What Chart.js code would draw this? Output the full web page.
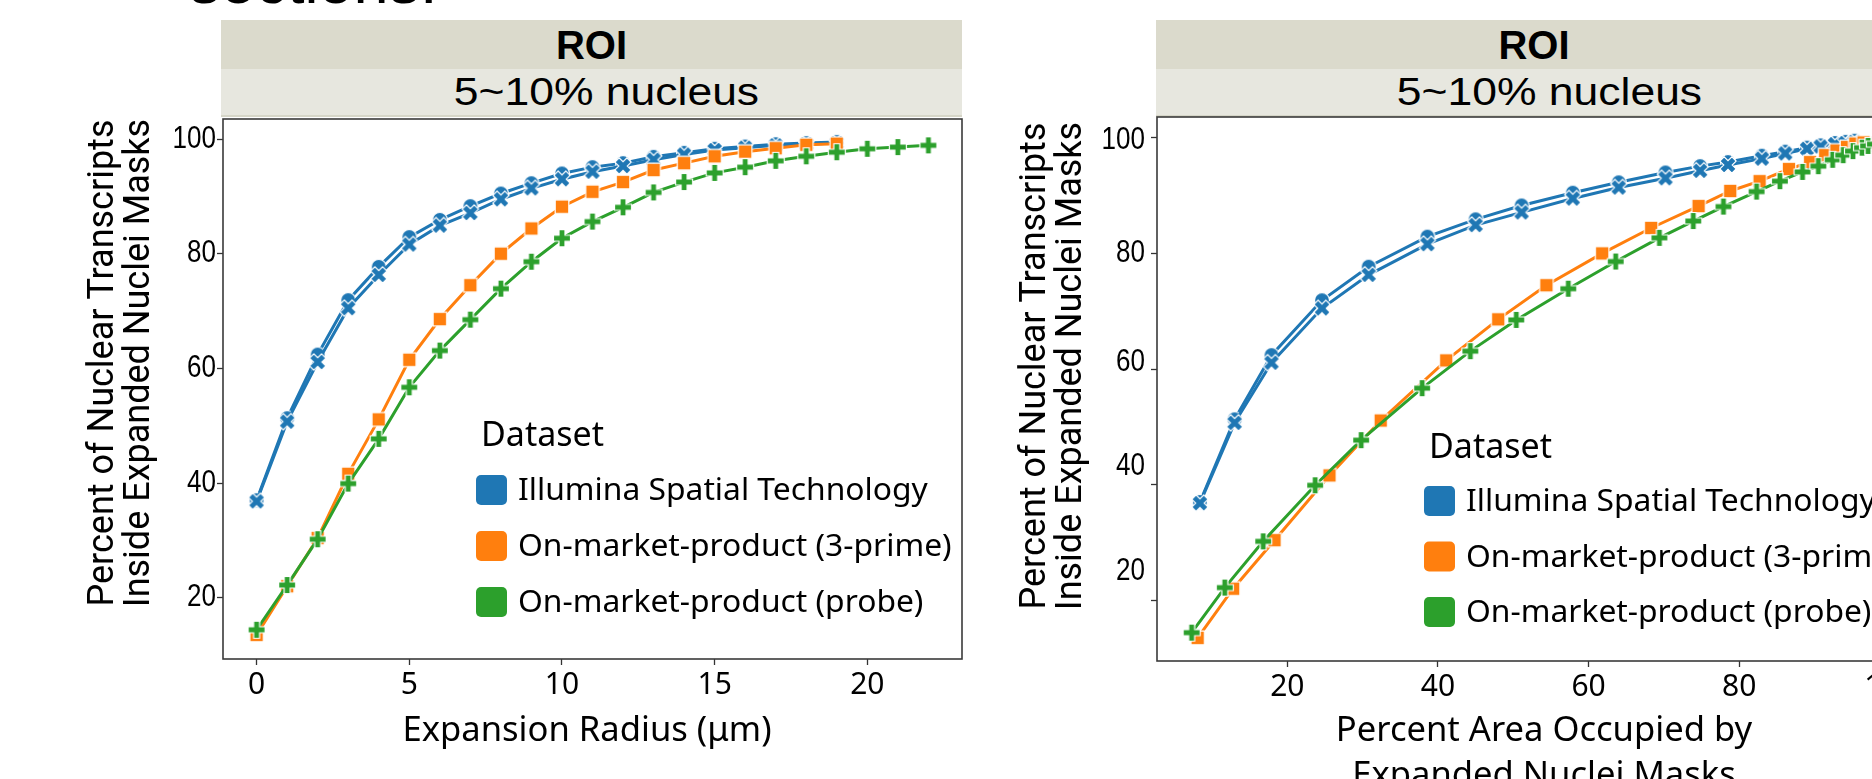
<!DOCTYPE html>
<html>
<head>
<meta charset="utf-8">
<script src="https://cdn.jsdelivr.net/npm/chart.js@4.4.0/dist/chart.umd.min.js"></script>
<style>
  html, body { margin: 0; padding: 0; background: #fff; }
  body { width: 1872px; height: 779px; overflow: hidden; position: relative;
         font-family: "Liberation Sans", Arial, sans-serif; }
  .strip { position: absolute; box-sizing: border-box; text-align: center; color: #000; white-space: nowrap; overflow: hidden; }
  .strip.top { background: #dbdacc; font-weight: bold; font-size: 40px; }
  .strip.sub { background: #e7e7df; font-size: 38px; border-bottom: 2px solid #d6d6c8; padding-left: 30px; }
  .strip.sub span { display: inline-block; transform: scaleX(1.17); }
  #caption { position: absolute; left: 189px; top: -50px; font-size: 63px; line-height: 63px; color: #000; }
  canvas { position: absolute; }
</style>
</head>
<body>
<div id="caption">sections.</div>

<div class="strip top" style="left:221px;top:20px;width:741px;height:49px;line-height:50px">ROI</div>
<div class="strip sub" style="left:221px;top:69px;width:741px;height:48px;line-height:46px"><span>5~10% nucleus</span></div>

<div class="strip top" style="left:1156px;top:20px;width:756px;height:49px;line-height:50px">ROI</div>
<div class="strip sub" style="left:1156px;top:69px;width:756px;height:48px;line-height:46px"><span>5~10% nucleus</span></div>

<canvas id="radiusChart" width="980" height="662" style="left:0;top:117px"></canvas>
<canvas id="areaChart" width="945" height="664" style="left:985px;top:115px"></canvas>

<script>
// ---- data -------------------------------------------------------------
const seriesNames = [
  'Illumina Spatial Technology',
  'On-market-product (3-prime)',
  'On-market-product (probe)'
];
const seriesColors = ['#1f77b4', '#ff7f0e', '#2ca02c'];

// expansion radius (µm) for each step
const radiusIllumina = [0,1,2,3,4,5,6,7,8,9,10,11,12,13,14,15,16,17,18,19];
const radiusThreePrime = [0,1,2,3,4,5,6,7,8,9,10,11,12,13,14,15,16,17,18,19];
const radiusProbe = [0,1,2,3,4,5,6,7,8,9,10,11,12,13,14,15,16,17,18,19,20,21,22];

// percent of nuclear transcripts inside the expanded masks
const illuminaRunA = [37.0,51.3,62.4,71.9,77.7,82.9,85.9,88.3,90.5,92.3,94.0,95.1,95.8,96.9,97.6,98.3,98.7,99.1,99.3,99.5];
const illuminaRunB = [36.8,50.7,61.1,70.5,76.3,81.6,84.9,87.1,89.5,91.4,93.0,94.3,95.3,96.4,97.3,98.1,98.5,98.9,99.1,99.3];
const threePrime   = [13.5,22.0,30.4,41.6,51.1,61.5,68.6,74.5,80.0,84.4,88.2,90.8,92.5,94.6,95.8,97.0,97.8,98.4,99.0,99.2];
const probe        = [14.4,22.2,30.2,39.9,47.7,56.7,63.1,68.5,73.9,78.6,82.7,85.6,88.1,90.7,92.5,94.1,95.1,96.2,97.0,97.7,98.3,98.6,98.9];

// percent area occupied by the expanded masks at each step
const areaIllumina   = [8.4,13.0,17.9,24.6,30.8,38.6,45.0,51.1,57.9,64.0,70.2,74.8,78.5,83.0,86.1,89.0,90.8,92.7,94.1,95.3];
const areaThreePrime = [8.1,12.8,18.3,25.6,32.4,41.1,48.0,54.4,61.8,68.3,74.6,78.8,82.7,86.6,89.4,91.4,92.9,94.3,95.4,96.5];
const areaProbe      = [7.3,11.7,16.8,23.7,29.8,37.9,44.3,50.4,57.3,63.6,69.4,73.9,77.9,82.3,85.4,88.4,90.5,92.4,93.8,95.1,96.3,97.1,98.0];

const yTicks = [20, 40, 60, 80, 100];
const radiusTicks = [0, 5, 10, 15, 20];
const areaTicks = [20, 40, 60, 80, 100];

// ---- marker glyphs ----------------------------------------------------
function markerCanvas(kind, color) {
  const size = 22;
  const c = document.createElement('canvas');
  c.width = size; c.height = size;
  const g = c.getContext('2d');
  g.translate(size / 2, size / 2);
  g.fillStyle = color;
  g.strokeStyle = '#ffffff';
  g.lineWidth = 1.2;
  g.beginPath();
  if (kind === 'circle') {
    g.arc(0, 0, 7.5, 0, Math.PI * 2);
  } else if (kind === 'square') {
    g.rect(-6.8, -6.8, 13.6, 13.6);
  } else {
    const r = 8.5, t = 3.0;
    const pts = [[-t,-r],[t,-r],[t,-t],[r,-t],[r,t],[t,t],[t,r],[-t,r],[-t,t],[-r,t],[-r,-t],[-t,-t]];
    const a = kind === 'x' ? Math.PI / 4 : 0;
    pts.forEach(([px, py], i) => {
      const qx = px * Math.cos(a) - py * Math.sin(a);
      const qy = px * Math.sin(a) + py * Math.cos(a);
      if (i === 0) g.moveTo(qx, qy); else g.lineTo(qx, qy);
    });
    g.closePath();
  }
  g.fill();
  g.stroke();
  return c;
}

function pairs(xs, ys) { return xs.map((x, i) => ({ x: x, y: ys[i] })); }

function makeDatasets(xIllumina, xThree, xProbe) {
  const common = { borderWidth: 3, tension: 0, pointRadius: 8, pointHoverRadius: 8, fill: false };
  return [
    Object.assign({ label: seriesNames[0], data: pairs(xIllumina, illuminaRunA), borderColor: seriesColors[0],
      backgroundColor: seriesColors[0], pointStyle: markerCanvas('circle', seriesColors[0]), order: 3 }, common),
    Object.assign({ label: seriesNames[0], data: pairs(xIllumina, illuminaRunB), borderColor: seriesColors[0],
      backgroundColor: seriesColors[0], pointStyle: markerCanvas('x', seriesColors[0]), order: 2 }, common),
    Object.assign({ label: seriesNames[1], data: pairs(xThree, threePrime), borderColor: seriesColors[1],
      backgroundColor: seriesColors[1], pointStyle: markerCanvas('square', seriesColors[1]), order: 1 }, common),
    Object.assign({ label: seriesNames[2], data: pairs(xProbe, probe), borderColor: seriesColors[2],
      backgroundColor: seriesColors[2], pointStyle: markerCanvas('plus', seriesColors[2]), order: 0 }, common)
  ];
}

// ---- annotation plugin: frame, y labels, axis titles, legend -----------
const panelDecor = {
  id: 'panelDecor',
  afterDatasetsDraw(chart, args, opts) {
    const ctx = chart.ctx;
    const a = chart.chartArea;
    const yScale = chart.scales.y;
    ctx.save();
    // frame
    ctx.strokeStyle = '#3a3a3a';
    ctx.lineWidth = 1.6;
    ctx.strokeRect(a.left, a.top, a.right - a.left, a.bottom - a.top);

    // y tick labels (narrow face), with per-label vertical nudge
    ctx.fillStyle = '#000';
    ctx.font = '31px "Liberation Sans"';
    ctx.textAlign = 'right';
    ctx.textBaseline = 'middle';
    yScale.ticks.forEach((t, i) => {
      const py = yScale.getPixelForValue(t.value) + (opts.yLabelShift[i] || 0);
      ctx.save();
      ctx.translate(opts.yLabelRight, py);
      ctx.scale(0.84, 1);
      ctx.fillText(String(t.value), 0, 0);
      ctx.restore();
    });

    // y title (two lines, rotated)
    ctx.font = '36px Roboto';
    ctx.textAlign = 'center';
    ctx.textBaseline = 'middle';
    opts.yTitle.forEach((line, i) => {
      ctx.save();
      ctx.translate(opts.yTitleX[i], opts.yTitleY);
      ctx.rotate(-Math.PI / 2);
      ctx.fillText(line, 0, 0);
      ctx.restore();
    });

    // x title
    ctx.font = '34.6px "Noto Sans"';
    ctx.textBaseline = 'alphabetic';
    opts.xTitle.forEach((line, i) => {
      ctx.fillText(line, opts.xTitleX, opts.xTitleBase + i * 45);
    });

    // legend
    const L = opts.legend;
    ctx.textAlign = 'left';
    ctx.textBaseline = 'middle';
    ctx.font = '34px "Noto Sans"';
    ctx.fillText('Dataset', L.x + 5, L.titleY);
    ctx.font = '31.8px "Noto Sans"';
    seriesNames.forEach((name, i) => {
      const cy = L.firstY + i * L.step;
      ctx.fillStyle = seriesColors[i];
      ctx.beginPath();
      ctx.roundRect(L.x, cy - 15, 31, 30, 5);
      ctx.fill();
      ctx.fillStyle = '#000';
      ctx.fillText(name, L.x + 42, cy + 1);
    });
    ctx.restore();
  }
};

function axisOptions(xMin, xMax, xTickValues, yMin, yMax, yWidth, xHeight) {
  const tickGrid = { display: true, drawOnChartArea: false, drawTicks: true, tickLength: 6, tickColor: '#333', tickWidth: 1.3 };
  return {
    x: {
      type: 'linear', min: xMin, max: xMax,
      afterBuildTicks: (s) => { s.ticks = xTickValues.map(v => ({ value: v })); },
      afterFit: (s) => { s.height = xHeight; s.paddingLeft = 0; s.paddingRight = 0; },
      grid: tickGrid,
      border: { display: false },
      ticks: { color: '#000', font: { family: 'Noto Sans', size: 30 }, padding: 2, maxRotation: 0, autoSkip: false }
    },
    y: {
      type: 'linear', min: yMin, max: yMax,
      afterBuildTicks: (s) => { s.ticks = yTicks.map(v => ({ value: v })); },
      afterFit: (s) => { s.width = yWidth; s.paddingTop = 0; s.paddingBottom = 0; },
      grid: tickGrid,
      border: { display: false },
      ticks: { display: false }
    }
  };
}

Chart.defaults.animation = false;

new Chart(document.getElementById('radiusChart'), {
  type: 'line',
  data: { datasets: makeDatasets(radiusIllumina, radiusThreePrime, radiusProbe) },
  options: {
    responsive: false, animation: false,
    layout: { autoPadding: false, padding: { top: 2, right: 18, left: 0, bottom: 0 } },
    scales: axisOptions(-1.1, 23.1, radiusTicks, 9.3, 103.5, 223, 120),
    plugins: {
      legend: { display: false }, tooltip: { enabled: false },
      panelDecor: {
        yLabelRight: 216, yLabelShift: [0, 0, 0, 0, 0],
        yTitle: ['Percent of Nuclear Transcripts', 'Inside Expanded Nuclei Masks'],
        yTitleX: [104, 140], yTitleY: 246,
        xTitle: ['Expansion Radius (\u03bcm)'], xTitleX: 587, xTitleBase: 624,
        legend: { x: 476, titleY: 319, firstY: 373, step: 56 }
      }
    }
  },
  plugins: [panelDecor]
});

new Chart(document.getElementById('areaChart'), {
  type: 'line',
  data: { datasets: makeDatasets(areaIllumina, areaThreePrime, areaProbe) },
  options: {
    responsive: false, animation: false,
    layout: { autoPadding: false, padding: { top: 2, right: 19, left: 0, bottom: 0 } },
    scales: axisOptions(2.7, 102.8, areaTicks, 9.5, 103.6, 172, 118),
    plugins: {
      legend: { display: false }, tooltip: { enabled: false },
      panelDecor: {
        yLabelRight: 160, yLabelShift: [-29, -18, -7, 0, 3],
        yTitle: ['Percent of Nuclear Transcripts', 'Inside Expanded Nuclei Masks'],
        yTitleX: [51, 87], yTitleY: 251,
        xTitle: ['Percent Area Occupied by', 'Expanded Nuclei Masks'], xTitleX: 559, xTitleBase: 626,
        legend: { x: 439, titleY: 333, firstY: 386, step: 55.5 }
      }
    }
  },
  plugins: [panelDecor]
});
</script>
</body>
</html>
